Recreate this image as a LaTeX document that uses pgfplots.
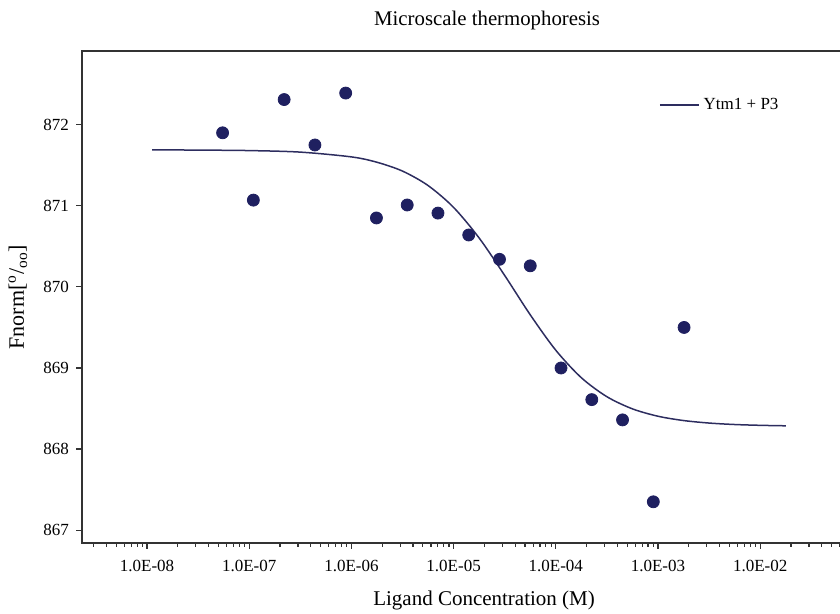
\documentclass[border=0pt]{standalone}
\usepackage{fontspec}
\setmainfont{Liberation Serif}
\usepackage{pgfplots}
\pgfplotsset{compat=1.18}
\usetikzlibrary{calc}
\definecolor{markcol}{RGB}{31,32,96}
\definecolor{linecol}{RGB}{45,45,95}
\begin{document}
\begin{tikzpicture}
\begin{axis}[
  scale only axis,
  width=381.5pt, height=246pt,
  xmode=log, log basis x=10,
  xmin=2.31e-9, xmax=6.76e-2,
  ymin=866.842, ymax=872.909,
  xtick={1e-8,1e-7,1e-6,1e-5,1e-4,1e-3,1e-2},
  xticklabels={1.0E-08,1.0E-07,1.0E-06,1.0E-05,1.0E-04,1.0E-03,1.0E-02},
  minor xtick={3e-9,4e-9,5e-9,6e-9,7e-9,8e-9,9e-9,
    2e-8,3e-8,4e-8,5e-8,6e-8,7e-8,8e-8,9e-8,
    2e-7,3e-7,4e-7,5e-7,6e-7,7e-7,8e-7,9e-7,
    2e-6,3e-6,4e-6,5e-6,6e-6,7e-6,8e-6,9e-6,
    2e-5,3e-5,4e-5,5e-5,6e-5,7e-5,8e-5,9e-5,
    2e-4,3e-4,4e-4,5e-4,6e-4,7e-4,8e-4,9e-4,
    2e-3,3e-3,4e-3,5e-3,6e-3,7e-3,8e-3,9e-3,
    2e-2,3e-2,4e-2,5e-2,6e-2},
  ytick={867,868,869,870,871,872},
  xtick pos=bottom, ytick pos=left,
  tick align=outside,
  major tick length=3pt, minor tick length=2pt,
  every tick/.style={black!80, line width=0.6pt},
  axis line style={black!80, line width=0.75pt},
  /pgf/number format/assume math mode=true,
  tick label style={font=\fontsize{8.5}{10}\selectfont},
  xticklabel style={yshift=-2pt},
  yticklabel style={/pgf/number format/.cd, fixed, 1000 sep={}},
  title={Microscale thermophoresis},
  title style={at={(axis description cs:0.531,1.037)}, anchor=center, font=\fontsize{10.4}{12}\selectfont},
  xlabel={Ligand Concentration (M)},
  xlabel style={at={(axis description cs:0.527,-0.116)}, anchor=center, font=\fontsize{10.5}{12}\selectfont},
  ylabel={Fnorm[\textsuperscript{o}/\textsubscript{oo}]},
  ylabel style={at={(axis description cs:-0.084,0.5)}, anchor=center, font=\fontsize{11}{13}\selectfont},
  legend style={at={(axis description cs:0.756,0.890)}, anchor=west, draw=none, fill=none, inner sep=0pt,
    font=\fontsize{8.5}{10}\selectfont},
  legend cell align=left,
  legend image code/.code={\draw[#1] (0pt,0pt) -- (19.5pt,0pt);},
  clip=false,
]
\coordinate (sw) at (rel axis cs:0,0);
\coordinate (ne) at (rel axis cs:1,1);
\addplot[linecol, line width=0.75pt, smooth] coordinates {
(1.122e-8,871.690) (3.162e-8,871.687) (1e-7,871.681) (3.162e-7,871.662)
(1e-6,871.603) (1.778e-6,871.537) (3.162e-6,871.428) (5.623e-6,871.250)
(1e-5,870.980) (1.778e-5,870.603) (3.162e-5,870.141) (5.623e-5,869.656)
(1e-4,869.219) (1.778e-4,868.880) (3.162e-4,868.646) (5.623e-4,868.496)
(1e-3,868.405) (1.778e-3,868.352) (3.162e-3,868.321) (5.623e-3,868.303)
(1e-2,868.293) (1.786e-2,868.287)
};
\addlegendentry{Ytm1 + P3}
\addplot[only marks, mark=*, mark size=3pt, markcol, mark options={fill=markcol, draw=markcol}, forget plot] coordinates {
(5.49e-8,871.90) (1.098e-7,871.07) (2.197e-7,872.31) (4.394e-7,871.75)
(8.789e-7,872.39) (1.758e-6,870.85) (3.516e-6,871.01) (7.031e-6,870.91)
(1.406e-5,870.64) (2.813e-5,870.34) (5.625e-5,870.26) (1.125e-4,869.00)
(2.25e-4,868.61) (4.5e-4,868.36) (9.0e-4,867.35) (1.8e-3,869.50)
};
\end{axis}
\pgfresetboundingbox
\path[use as bounding box] ($(sw)+(-41pt,-35.5pt)$) rectangle ($(sw|-ne)+(379pt,25.5pt)$);
\end{tikzpicture}
\end{document}
